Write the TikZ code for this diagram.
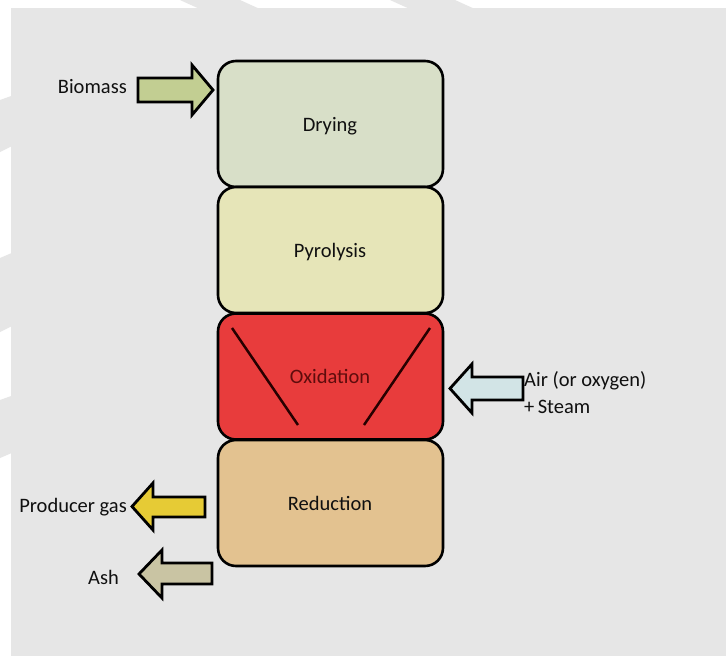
\documentclass[tikz,border=0pt]{standalone}
\usepackage{fontspec}
\setmainfont{Carlito}
\definecolor{bgc}{HTML}{E6E6E6}
\definecolor{dryc}{HTML}{D8DFC8}
\definecolor{pyrc}{HTML}{E6E5B8}
\definecolor{oxic}{HTML}{E83C3C}
\definecolor{redc}{HTML}{E3C290}
\definecolor{bioc}{HTML}{C2CE92}
\definecolor{airc}{HTML}{D2E4E6}
\definecolor{proc}{HTML}{E6CB35}
\definecolor{ashc}{HTML}{C9C4A3}
\definecolor{txtc}{HTML}{101010}
\definecolor{oxtxt}{HTML}{5E0C0C}
\begin{document}
\begin{tikzpicture}[x=1pt,y=-1pt,
  stage/.style={draw=black, line width=2.6pt, rounded corners=18pt,
    minimum width=225pt, minimum height=126pt, inner sep=0pt},
  lbl/.style={inner sep=0pt, text=txtc, font=\fontsize{20.5}{27}\selectfont, anchor=base},
  blockarrow/.style={draw=black, line width=2.8pt, line join=miter},
  divider/.style={line width=2.5pt, draw=black!85!red}]
\useasboundingbox (0,0) rectangle (726,656);
\fill[white] (0,0) rectangle (726,656);
% watermark stripes in the margins
\fill[bgc] (180,0) -- (240,0) -- (262,10) -- (202,10) -- cycle;
\fill[bgc] (390,0) -- (455,0) -- (477,10) -- (412,10) -- cycle;
\fill[bgc] (0,100) -- (14,95) -- (14,145) -- (0,152) -- cycle;
\fill[bgc] (0,258) -- (14,252) -- (14,325) -- (0,332) -- cycle;
\fill[bgc] (0,400) -- (14,395) -- (14,452) -- (0,458) -- cycle;
% main panel
\fill[bgc] (11,8) rectangle (726,656);

% stages
\node[stage, fill=dryc] (dry) at (330.5,124) {};
\node[stage, fill=pyrc] (pyr) at (330.5,250) {};
\node[stage, fill=oxic] (oxi) at (330.5,376.5) {};
\node[stage, fill=redc] (red) at (330.5,503) {};
\node[lbl] (tdry) at (330,131) {Drying};
\node[lbl] (tpyr) at (330,257.5) {Pyrolysis};
\node[lbl, text=oxtxt] (toxi) at (330,383.5) {Oxidation};
\node[lbl] (tred) at (330,510.5) {Reduction};

% oxidation zone lines
\coordinate (la) at (232,328); \coordinate (lb) at (298,425);
\coordinate (ra) at (430,328); \coordinate (rb) at (364,425);
\draw[divider] (la) -- (lb);
\draw[divider] (ra) -- (rb);

% block arrows
\draw[blockarrow, fill=bioc] (138,78) -- (192,78) -- (192,65) -- (213,90) -- (192,115) -- (192,102) -- (138,102) -- cycle;
\draw[blockarrow, fill=airc] (523,377) -- (472,377) -- (472,364) -- (450,388.5) -- (472,413) -- (472,400) -- (523,400) -- cycle;
\draw[blockarrow, fill=proc] (205,497) -- (153,497) -- (153,483) -- (132,506.5) -- (153,530) -- (153,517) -- (205,517) -- cycle;
\draw[blockarrow, fill=ashc] (212,563) -- (162,563) -- (162,550) -- (139,574) -- (162,598) -- (162,584) -- (212,584) -- cycle;

% labels
\node[lbl, anchor=base east] (tbio) at (127,93) {Biomass};
\node[lbl, anchor=base east] (tpro) at (127,512) {Producer gas};
\node[lbl, anchor=base east] (tash) at (119,584) {Ash};
\node[lbl, anchor=base west] (tair) at (524,386) {Air (or oxygen)};
\node[lbl, anchor=base west] (tstm) at (524,413) {+\,Steam};
\end{tikzpicture}
\end{document}
